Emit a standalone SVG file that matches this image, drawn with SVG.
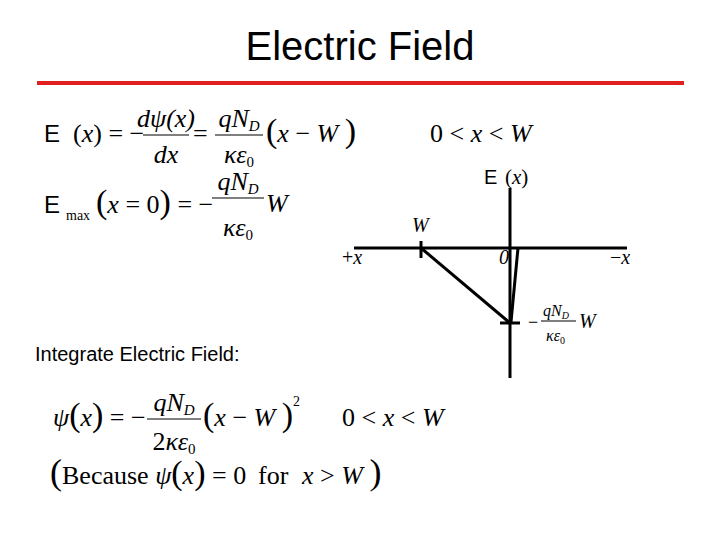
<svg xmlns="http://www.w3.org/2000/svg" width="720" height="540" viewBox="0 0 720 540">
<style>
.s{font-family:"Liberation Sans",Arial,sans-serif;fill:#000}
.m{font-family:"Liberation Serif","Times New Roman",serif;font-size:26px;fill:#000}
.c{text-anchor:middle}
.i{font-style:italic}
.sm{font-size:15px}
.ax{stroke:#000;stroke-width:3;fill:none}
.fb{stroke:#000;stroke-width:1.2}
</style>
<rect width="720" height="540" fill="#fff"/>
<text class="s" x="360" y="60" style="font-size:40px" text-anchor="middle">Electric Field</text>
<line x1="37" y1="83" x2="684" y2="83" stroke="#e02020" stroke-width="4"/>

<g id="eq1">
<text class="s" x="44" y="142" style="font-size:24px">E</text>
<text class="m" x="73" y="142">(<tspan class="i">x</tspan>) = −</text>
<text class="m i c" x="166" y="127">dψ(x)</text>
<line class="fb" x1="143" y1="135" x2="189" y2="135"/>
<text class="m i c" x="166" y="163">dx</text>
<text class="m" x="193" y="142">=</text>
<text class="m i c" x="239" y="127">qN<tspan class="sm" dy="4">D</tspan></text>
<line class="fb" x1="215" y1="135" x2="263" y2="135"/>
<text class="m i c" x="239" y="163">κε<tspan class="sm" dy="4" font-style="normal">0</tspan></text>
<text class="m" x="266" y="142"><tspan style="font-size:34px">(</tspan><tspan class="i">x</tspan> − <tspan class="i">W</tspan> <tspan style="font-size:34px">)</tspan></text>
<text class="m" x="430" y="142">0 &lt; <tspan class="i">x</tspan> &lt; <tspan class="i">W</tspan></text>
</g>

<g id="eq2">
<text class="s" x="44" y="213" style="font-size:24px">E</text>
<text class="m" x="66" y="220" style="font-size:14px">max</text>
<text class="m" x="96" y="213"><tspan style="font-size:34px">(</tspan><tspan class="i">x</tspan> = 0<tspan style="font-size:34px">)</tspan> = −</text>
<text class="m i c" x="238" y="190">qN<tspan class="sm" dy="4">D</tspan></text>
<line class="fb" x1="212" y1="198" x2="264" y2="198"/>
<text class="m i c" x="238" y="236">κε<tspan class="sm" dy="4" font-style="normal">0</tspan></text>
<text class="m i" x="266" y="212">W</text>
</g>

<g id="graph">
<line class="ax" x1="354" y1="248" x2="627" y2="248"/>
<line class="ax" x1="510" y1="188" x2="510" y2="378"/>
<line class="ax" x1="421" y1="241" x2="421" y2="258"/>
<line class="ax" x1="500" y1="323" x2="520" y2="323"/>
<line class="ax" x1="421" y1="248" x2="510" y2="323"/>
<line class="ax" x1="518" y1="248" x2="511" y2="322"/>
<text class="s" x="484" y="184" style="font-size:20px">E</text>
<text class="m" x="505" y="184" style="font-size:21px">(<tspan class="i">x</tspan>)</text>
<text class="m i" x="412" y="232" style="font-size:20px">W</text>
<text class="m" x="342" y="264" style="font-size:20px">+<tspan class="i">x</tspan></text>
<text class="m i" x="499" y="264" style="font-size:20px">0</text>
<text class="m" x="610" y="264" style="font-size:20px">−<tspan class="i">x</tspan></text>
<text class="m" x="528" y="328" style="font-size:18px">−</text>
<text class="m i" x="543" y="316" style="font-size:16px">qN<tspan style="font-size:10px" dy="3">D</tspan></text>
<line class="fb" x1="541" y1="321" x2="576" y2="321"/>
<text class="m i" x="546" y="341" style="font-size:16px">κε<tspan style="font-size:10px;font-style:normal" dy="3">0</tspan></text>
<text class="m i" x="579" y="328" style="font-size:20px">W</text>
</g>

<text class="s" x="35" y="361" style="font-size:20px">Integrate Electric Field:</text>

<g id="eq3">
<text class="m" x="53" y="426"><tspan class="i">ψ</tspan><tspan style="font-size:34px">(</tspan><tspan class="i">x</tspan><tspan style="font-size:34px">)</tspan> = −</text>
<text class="m i c" x="174" y="411">qN<tspan class="sm" dy="4">D</tspan></text>
<line class="fb" x1="147" y1="419" x2="201" y2="419"/>
<text class="m c" x="174" y="450">2<tspan class="i">κε</tspan><tspan class="sm" dy="4">0</tspan></text>
<text class="m" x="203" y="426"><tspan style="font-size:34px">(</tspan><tspan class="i">x</tspan> − <tspan class="i">W</tspan> <tspan style="font-size:34px">)</tspan><tspan style="font-size:14px" dy="-20">2</tspan></text>
<text class="m" x="342" y="426">0 &lt; <tspan class="i">x</tspan> &lt; <tspan class="i">W</tspan></text>
<text class="m" x="50" y="484"><tspan style="font-size:36px">(</tspan>Because <tspan class="i">ψ</tspan><tspan style="font-size:34px">(</tspan><tspan class="i">x</tspan><tspan style="font-size:34px">)</tspan> = 0</text>
<text class="m" x="258" y="484">for</text>
<text class="m" x="302" y="484"><tspan class="i">x</tspan> &gt; <tspan class="i">W</tspan> <tspan style="font-size:36px">)</tspan></text>
</g>
</svg>
